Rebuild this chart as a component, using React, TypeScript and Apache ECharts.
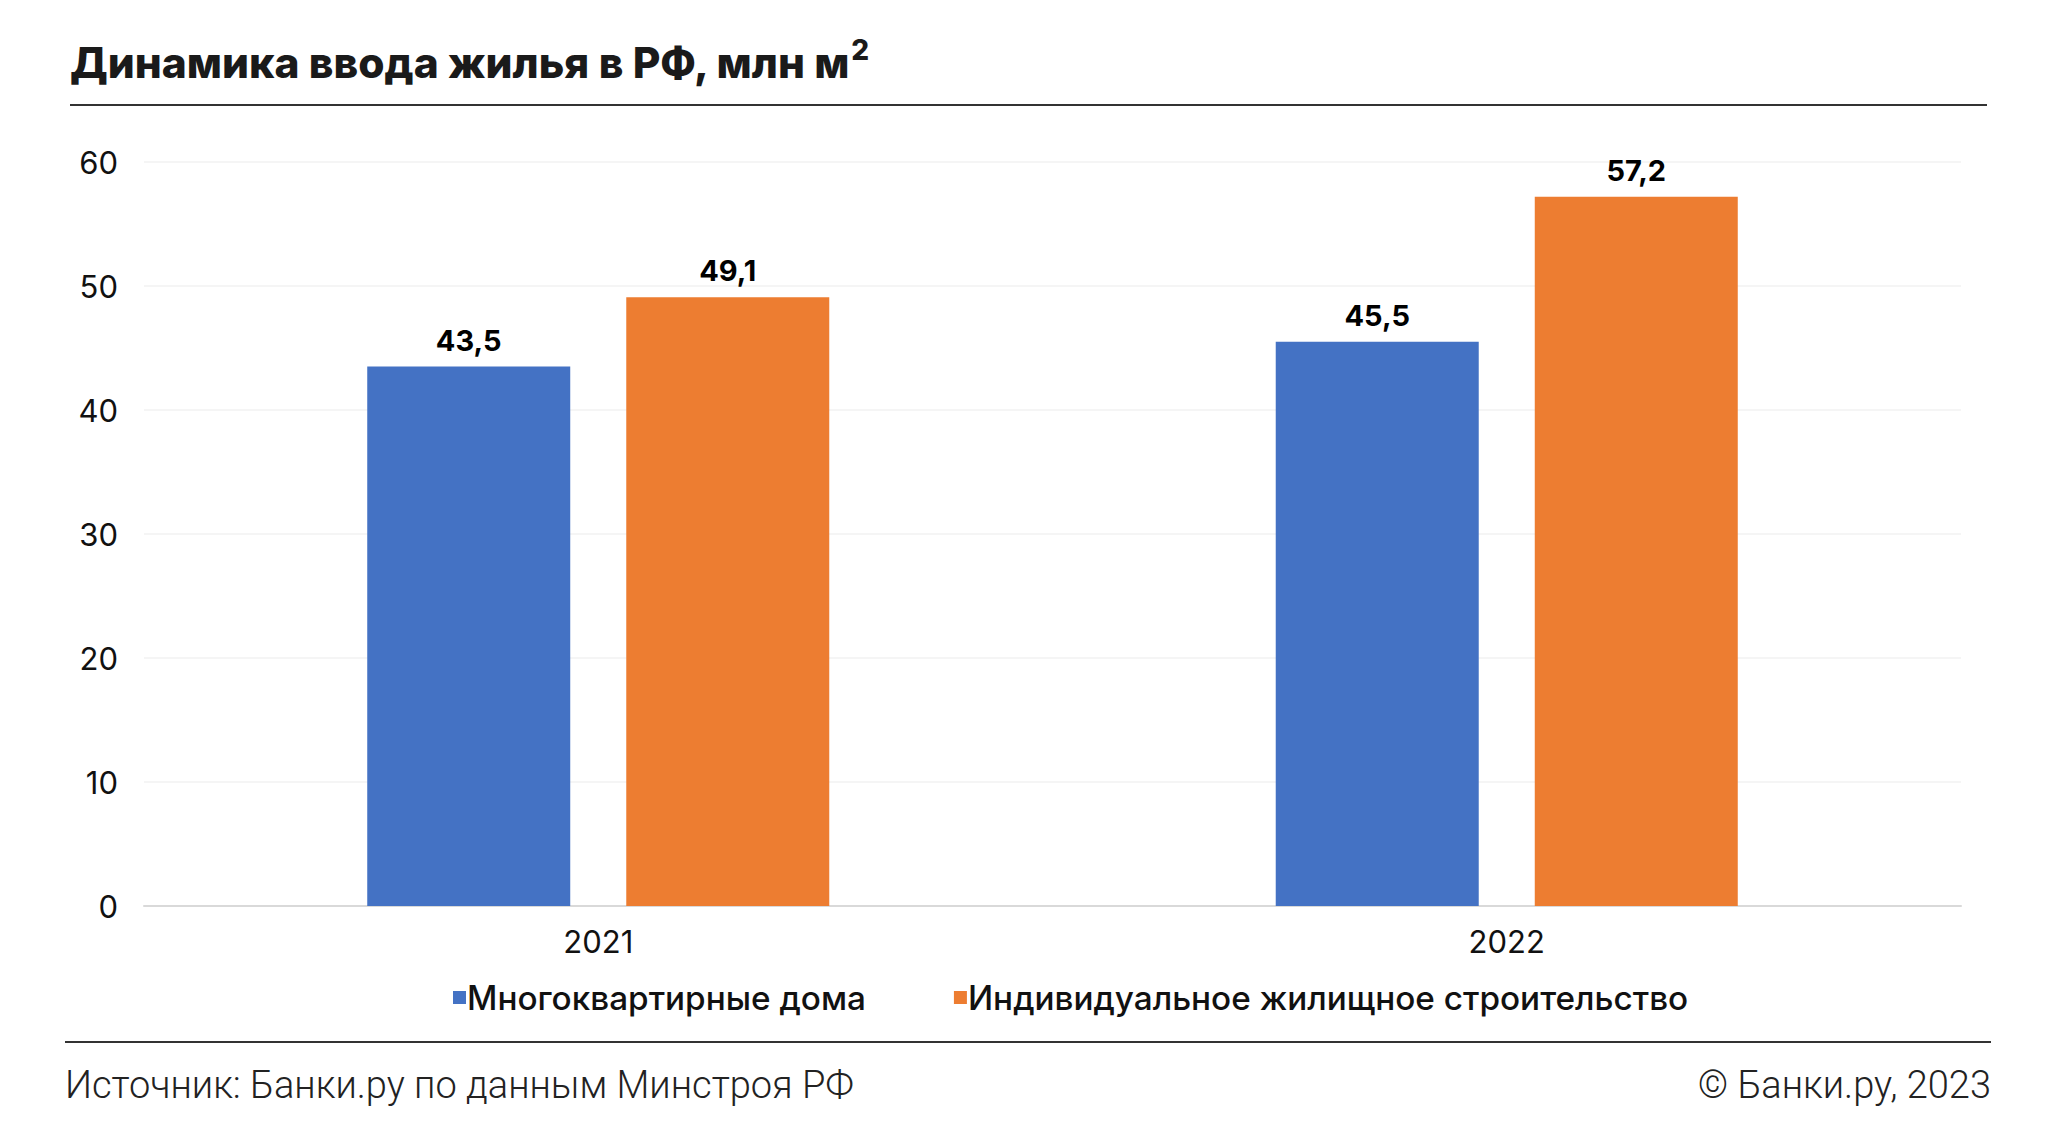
import React, { useEffect, useRef } from "react";
import * as echarts from "echarts";

const categories = ["2021", "2022"];
const seriesNames = ["Многоквартирные дома", "Индивидуальное жилищное строительство"];
const apartmentValues = [43.5, 45.5];
const individualValues = [49.1, 57.2];
const yTicks = { min: 0, max: 60, interval: 10 };

const titleMain = "Динамика ввода жилья в РФ, млн м";
const titleSup = "2";
const sourceText = "Источник: Банки.ру по данным Минстроя РФ";
const copyrightText = "© Банки.ру, 2023";

const BLUE = "#4472C4";
const ORANGE = "#ED7D31";

export default function App() {
  const ref = useRef<HTMLDivElement>(null);
  useEffect(() => {
    if (!ref.current) return;
    const chart = echarts.init(ref.current, undefined, { renderer: "svg" });
    const fmt = (p: any) => String(p.value).replace(".", ",");
    chart.setOption({
      animation: false,
      backgroundColor: "#ffffff",
      textStyle: { fontFamily: "Inter" },
      grid: { left: 144, right: 89, top: 162, bottom: 234, containLabel: false },
      legend: {
        left: 448,
        top: 976,
        itemWidth: 13,
        itemHeight: 13,
        itemGap: 88,
        icon: "rect",
        textStyle: { fontFamily: "Inter", fontSize: 33.3, fontWeight: 500, color: "#111", padding: [0, 0, 0, -4] },
        data: seriesNames,
      },
      xAxis: {
        type: "category",
        data: categories,
        axisTick: { show: false },
        axisLine: { lineStyle: { color: "#d9d9d9", width: 2 } },
        axisLabel: { fontFamily: "Inter", fontSize: 31, color: "#111", margin: 20 },
      },
      yAxis: {
        type: "value",
        min: yTicks.min,
        max: yTicks.max,
        interval: yTicks.interval,
        axisLine: { show: false },
        axisTick: { show: false },
        splitLine: { lineStyle: { color: "#f2f2f2", width: 1.5 } },
        axisLabel: { fontFamily: "Inter", fontSize: 31, color: "#111", margin: 26 },
      },
      series: [
        {
          name: seriesNames[0],
          type: "bar",
          data: apartmentValues,
          barWidth: 203,
          barGap: "27.6%",
          itemStyle: { color: BLUE },
          label: {
            show: true,
            position: "top",
            distance: 12,
            formatter: fmt,
            fontFamily: "Inter",
            fontSize: 29,
            fontWeight: 700,
            color: "#000",
          },
        },
        {
          name: seriesNames[1],
          type: "bar",
          data: individualValues,
          barWidth: 203,
          itemStyle: { color: ORANGE },
          label: {
            show: true,
            position: "top",
            distance: 12,
            formatter: fmt,
            fontFamily: "Inter",
            fontSize: 29,
            fontWeight: 700,
            color: "#000",
          },
        },
      ],
      graphic: [
        {
          type: "text",
          left: 70,
          top: 36,
          style: {
            text: "{a|" + titleMain + "}{s|" + titleSup + "}",
            rich: {
              a: { fontFamily: "Inter", fontSize: 42.5, fontWeight: 800, fill: "#1a1a1a", lineHeight: 52 },
              s: { fontFamily: "Inter", fontSize: 28, fontWeight: 800, fill: "#1a1a1a", verticalAlign: "top", lineHeight: 52, padding: [0, 0, 18, 0] },
            },
          },
        },
        {
          type: "rect",
          shape: { x: 70, y: 104, width: 1917, height: 2 },
          style: { fill: "#333" },
        },
        {
          type: "rect",
          shape: { x: 65, y: 1041, width: 1926, height: 2 },
          style: { fill: "#333" },
        },
        {
          type: "text",
          left: 65,
          top: 1066,
          style: { text: sourceText, fontFamily: "Roboto", fontWeight: 300, fontSize: 38, fill: "#222" },
        },
        {
          type: "text",
          right: 59,
          top: 1066,
          style: { text: copyrightText, fontFamily: "Roboto", fontWeight: 300, fontSize: 38, fill: "#222" },
        },
      ],
    });
    return () => chart.dispose();
  }, []);
  return (
    <div
      ref={ref}
      style={{ position: "fixed", left: 0, top: 0, width: 2050, height: 1140, background: "#fff" }}
    />
  );
}
